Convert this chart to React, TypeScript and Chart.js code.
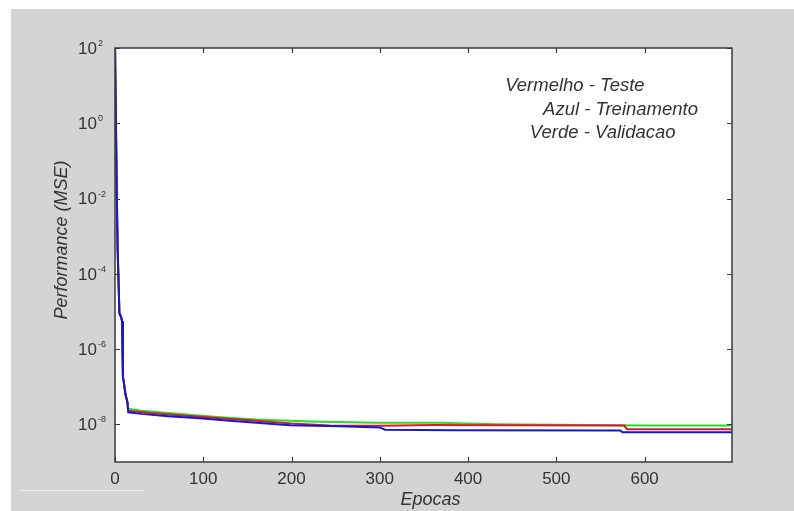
import React, { useEffect, useRef } from "react";
import { Chart, registerables } from "chart.js";
Chart.register(...registerables);

// Treinamento (blue)
const epochsTrain = [0, 2, 3, 5, 7, 8, 9, 10, 12, 14, 15, 30, 60, 96, 130, 164, 198, 255, 300, 306, 385, 572, 575, 699];
const mseTrain = [120, 1.5e-2, 4.5e-4, 9e-6, 7e-6, 5.5e-6, 1.8e-7, 1.3e-7, 6e-8, 4e-8, 2.1e-8, 1.9e-8, 1.65e-8, 1.45e-8, 1.25e-8, 1.08e-8, 9.5e-9, 8.9e-9, 8.3e-9, 7.2e-9, 7.0e-9, 6.9e-9, 6.2e-9, 6.2e-9];

// Teste (red)
const epochsTest = [0, 2, 3, 5, 7, 8, 9, 10, 12, 14, 15, 40, 80, 120, 160, 200, 243, 300, 360, 432, 577, 580, 699];
const mseTest = [120, 1.5e-2, 4.5e-4, 9e-6, 7e-6, 5.5e-6, 1.8e-7, 1.3e-7, 6e-8, 4e-8, 2.3e-8, 2.0e-8, 1.7e-8, 1.45e-8, 1.25e-8, 1.05e-8, 9.3e-9, 9.2e-9, 9.6e-9, 9.5e-9, 9.3e-9, 7.4e-9, 7.4e-9];

// Validacao (green)
const epochsVal = [0, 2, 3, 5, 7, 8, 9, 10, 12, 14, 15, 30, 60, 119, 160, 221, 296, 368, 430, 600, 699];
const mseVal = [120, 1.5e-2, 4.5e-4, 9e-6, 7e-6, 5.5e-6, 1.8e-7, 1.3e-7, 6e-8, 4e-8, 2.6e-8, 2.3e-8, 2.0e-8, 1.55e-8, 1.35e-8, 1.2e-8, 1.1e-8, 1.1e-8, 1.0e-8, 9.3e-9, 9.3e-9];

const xTicks = [0, 100, 200, 300, 400, 500, 600];
const yTickExps = [2, 0, -2, -4, -6, -8];

const xTitle = "Epocas";
const yTitle = "Performance (MSE)";
const noteLines = ["Vermelho - Teste", "Azul - Treinamento", "Verde - Validacao"];
const noteEpoch = [442, 485, 470];
const noteValue = [9.8, 2.3, 0.55];

const FONT_FAMILY = '"Liberation Sans", Arial, Helvetica, sans-serif';
const TEXT = "#333333";

const toPoints = (xs: number[], ys: number[]) => xs.map((x, i) => ({ x, y: ys[i] }));

const framePlugin = {
  id: "matlabFrame",
  beforeDraw(chart: any) {
    const ctx = chart.ctx;
    const a = chart.chartArea;
    ctx.save();
    ctx.fillStyle = "#ffffff";
    ctx.fillRect(0, 0, chart.width, chart.height);
    ctx.fillStyle = "#d4d4d4";
    ctx.fillRect(11, 9, chart.width - 11, chart.height - 9);
    ctx.fillStyle = "#ffffff";
    ctx.fillRect(a.left, a.top, a.right - a.left, a.bottom - a.top);
    ctx.strokeStyle = "#ececec";
    ctx.lineWidth = 1;
    ctx.beginPath();
    ctx.moveTo(18, 490.5);
    ctx.lineTo(144, 490.5);
    ctx.stroke();
    ctx.restore();
  },
  afterDatasetsDraw(chart: any) {
    const ctx = chart.ctx;
    const a = chart.chartArea;
    const x = chart.scales.x;
    const y = chart.scales.y;
    ctx.save();
    // axes box
    ctx.strokeStyle = "#3a3a3a";
    ctx.lineWidth = 1.5;
    ctx.strokeRect(a.left, a.top, a.right - a.left, a.bottom - a.top);
    // inward tick marks on all four sides
    const L = 5;
    ctx.lineWidth = 1.2;
    ctx.beginPath();
    x.ticks.forEach((t: any) => {
      const px = Math.round(x.getPixelForValue(t.value)) + 0.5;
      ctx.moveTo(px, a.bottom);
      ctx.lineTo(px, a.bottom - L);
      ctx.moveTo(px, a.top);
      ctx.lineTo(px, a.top + L);
    });
    y.ticks.forEach((t: any) => {
      const py = Math.round(y.getPixelForValue(t.value)) + 0.5;
      ctx.moveTo(a.left, py);
      ctx.lineTo(a.left + L, py);
      ctx.moveTo(a.right, py);
      ctx.lineTo(a.right - L, py);
    });
    ctx.stroke();

    // y tick labels: 10 with raised exponent
    ctx.fillStyle = TEXT;
    y.ticks.forEach((t: any) => {
      const py = y.getPixelForValue(t.value);
      const e = Math.round(Math.log10(t.value));
      ctx.font = `17px ${FONT_FAMILY}`;
      ctx.textAlign = "right";
      ctx.textBaseline = "middle";
      ctx.fillText("10", a.left - 18, py + 1);
      ctx.font = `9px ${FONT_FAMILY}`;
      ctx.textAlign = "left";
      ctx.textBaseline = "alphabetic";
      ctx.fillText(String(e), a.left - 17, py - 2);
    });

    // axis titles
    ctx.font = `italic 18px ${FONT_FAMILY}`;
    ctx.textAlign = "center";
    ctx.textBaseline = "middle";
    ctx.fillText(xTitle, (a.left + a.right) / 2 + 7, 500);
    ctx.save();
    ctx.translate(62, (a.top + a.bottom) / 2 - 15);
    ctx.rotate(-Math.PI / 2);
    ctx.fillText(yTitle, 0, 0);
    ctx.restore();

    // annotation text
    ctx.font = `italic 18.5px ${FONT_FAMILY}`;
    ctx.textAlign = "left";
    ctx.textBaseline = "middle";
    noteLines.forEach((s, i) => {
      ctx.fillText(s, x.getPixelForValue(noteEpoch[i]), y.getPixelForValue(noteValue[i]));
    });
    ctx.restore();
  },
};

export default function App() {
  const ref = useRef<HTMLCanvasElement | null>(null);
  useEffect(() => {
    if (!ref.current) return;
    const chart = new Chart(ref.current, {
      type: "line",
      data: {
        datasets: [
          { label: "Treinamento", data: toPoints(epochsTrain, mseTrain), borderColor: "#1515d5", borderWidth: 2, pointRadius: 0, tension: 0 },
          { label: "Teste", data: toPoints(epochsTest, mseTest), borderColor: "#d81830", borderWidth: 2, pointRadius: 0, tension: 0 },
          { label: "Validacao", data: toPoints(epochsVal, mseVal), borderColor: "#22e022", borderWidth: 2, pointRadius: 0, tension: 0 },
        ],
      },
      options: {
        responsive: false,
        animation: false,
        events: [],
        layout: { padding: { top: 48, right: 62, left: 0, bottom: 0 } },
        plugins: { legend: { display: false }, tooltip: { enabled: false } },
        scales: {
          x: {
            type: "linear",
            min: 0,
            max: 699,
            grid: { display: false, drawTicks: false },
            border: { display: false },
            ticks: { padding: 7, color: TEXT, font: { family: FONT_FAMILY, size: 17 }, maxRotation: 0, autoSkip: false },
            afterBuildTicks: (s: any) => {
              s.ticks = xTicks.map((v) => ({ value: v }));
            },
            afterFit: (s: any) => {
              s.height = 49;
            },
          },
          y: {
            type: "logarithmic",
            min: 1e-9,
            max: 1e2,
            grid: { display: false, drawTicks: false },
            border: { display: false },
            ticks: { display: false, autoSkip: false },
            afterBuildTicks: (s: any) => {
              s.ticks = yTickExps.map((e) => ({ value: Math.pow(10, e) }));
            },
            afterFit: (s: any) => {
              s.width = 115;
            },
          },
        },
      },
      plugins: [framePlugin],
    } as any);
    return () => chart.destroy();
  }, []);
  return (
    <div style={{ position: "absolute", left: 0, top: 0, width: 794, height: 511 }}>
      <canvas ref={ref} width={794} height={511} style={{ display: "block" }} />
    </div>
  );
}
